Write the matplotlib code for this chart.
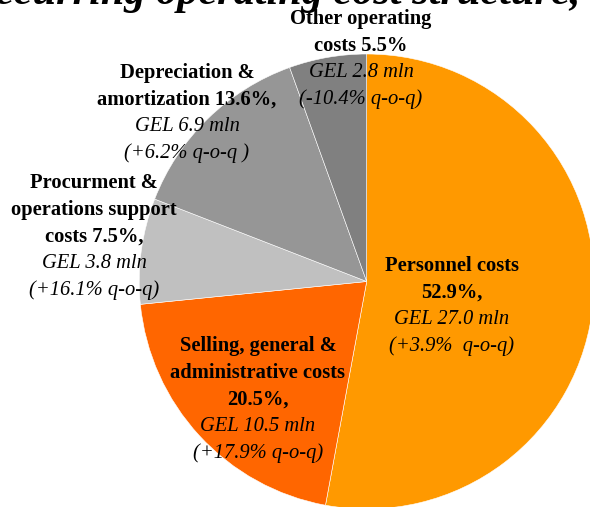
import matplotlib
matplotlib.use("Agg")
import matplotlib.pyplot as plt

# cost structure, share of total and amount in GEL mln, q-o-q change in %
names = ["Personnel costs", "Selling, general &\nadministrative costs",
         "Procurment &\noperations support\ncosts", "Depreciation &\namortization",
         "Other operating\ncosts"]
shares = [52.9, 20.5, 7.5, 13.6, 5.5]
amounts = [27.0, 10.5, 3.8, 6.9, 2.8]
changes = [3.9, 17.9, 16.1, 6.2, -10.4]
colors = ["#FF9900", "#FF6600", "#C0C0C0", "#969696", "#808080"]

# how the share sits after the name, and small spacing quirks of the original
seps = ["\n", "\n", " ", " ", " "]
commas = [",", ",", ",", ",", ""]
qoq_fmt = ["({:+.1f}%  q-o-q)", "({:+.1f}% q-o-q)", "({:+.1f}% q-o-q)",
           "({:+.1f}% q-o-q )", "({:+.1f}% q-o-q)"]

# label anchor (x centre, y of first line) in pixels from top-left
label_pos = [(452, 266), (258, 346), (94, 183), (187, 73), (361, 19)]
step = 26.7

W, H = 590, 507
fig = plt.figure(figsize=(W / 100, H / 100), dpi=100)
ax = fig.add_axes([0, 0, 1, 1])

ax.pie(shares, colors=colors, startangle=90, counterclock=False,
       center=(366.7, H - 281.5), radius=227.5,
       wedgeprops=dict(edgecolor="white", linewidth=0.4))
ax.set_xlim(0, W)
ax.set_ylim(0, H)
ax.set_aspect("equal")
ax.axis("off")

serif = "Liberation Serif"
fs = 14.8

for i in range(len(names)):
    bold = f"{names[i]}{seps[i]}{shares[i]}%{commas[i]}".split("\n")
    ital = [f"GEL {amounts[i]:.1f} mln", qoq_fmt[i].format(changes[i])]
    x, y0 = label_pos[i]
    for j, line in enumerate(bold + ital):
        y = y0 + j * step
        ax.text(x, H - y, line, ha="center", va="center", fontsize=fs,
                family=serif, fontweight="bold" if j < len(bold) else "normal",
                fontstyle="normal" if j < len(bold) else "italic")

ax.text(-33, H - 4, "Recurring operating cost structure,", ha="left", va="baseline",
        fontsize=30.4, family=serif, fontweight="bold", fontstyle="italic")

fig.savefig("out.png", dpi=100)
